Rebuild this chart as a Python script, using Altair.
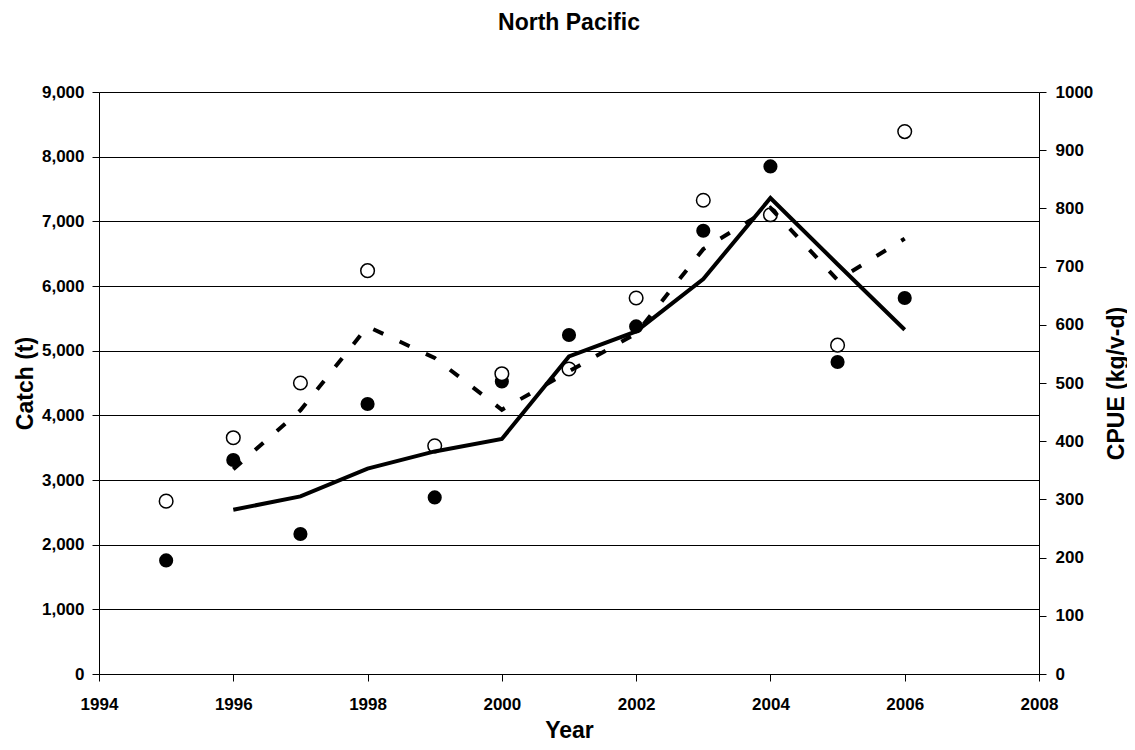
import altair as alt
import pandas as pd

# ---- data ----
years = [1995, 1996, 1997, 1998, 1999, 2000, 2001, 2002, 2003, 2004, 2005, 2006]
catch_t = [1757, 3309, 2165, 4175, 2731, 4525, 5242, 5375, 6855, 7849, 4824, 5814]
cpue = [297, 406, 500, 693, 392, 516, 524, 646, 814, 789, 565, 932]

line_years = [1996, 1997, 1998, 1999, 2000, 2001, 2002, 2003, 2004, 2005, 2006]
catch_avg = [2541, 2746, 3175, 3442, 3634, 4911, 5298, 6108, 7360, 6337, 5324]
cpue_avg = [352, 453, 597, 543, 454, 520, 585, 730, 801, 677, 748]

x_ticks = [1994, 1996, 1998, 2000, 2002, 2004, 2006, 2008]
left_ticks = [0, 1000, 2000, 3000, 4000, 5000, 6000, 7000, 8000, 9000]
right_ticks = [0, 100, 200, 300, 400, 500, 600, 700, 800, 900, 1000]

pts = pd.DataFrame({"Year": years, "Catch": catch_t, "CPUE": cpue})
lines = pd.DataFrame({"Year": line_years, "CatchAvg": catch_avg, "CPUEAvg": cpue_avg})

FONT = "Liberation Sans"

x_enc = alt.X(
    "Year:Q",
    scale=alt.Scale(domain=[1994, 2008], nice=False, zero=False),
    axis=alt.Axis(
        values=x_ticks, format="d", title="Year", grid=False,
        domainColor="black", tickColor="black", tickSize=7,
        labelFont=FONT, labelFontSize=17, labelFontWeight="bold", labelColor="black",
        labelPadding=15, labelFlush=False,
        titleFont=FONT, titleFontSize=23, titleFontWeight="bold", titleColor="black",
        titleX=470, titleY=63, titleBaseline="alphabetic", titleAlign="center",
    ),
)

left_scale = alt.Scale(domain=[0, 9000], nice=False)
right_scale = alt.Scale(domain=[0, 1000], nice=False)

filled = alt.Chart(pts).mark_point(
    filled=True, shape="circle", size=200, color="black", opacity=1
).encode(
    x=x_enc,
    y=alt.Y(
        "Catch:Q", scale=left_scale,
        axis=alt.Axis(
            values=left_ticks, format=",.0f", title="Catch (t)", orient="left",
            grid=True, gridColor="black", gridWidth=1, gridOpacity=1,
            domainColor="black", tickColor="black", tickSize=7,
            labelFont=FONT, labelFontSize=17, labelFontWeight="bold", labelColor="black",
            labelPadding=8,
            titleFont=FONT, titleFontSize=23, titleFontWeight="bold", titleColor="black",
            titleAngle=270, titleX=-67, titleY=291, titleBaseline="alphabetic", titleAlign="center",
        ),
    ),
)

opened = alt.Chart(pts).mark_point(
    filled=False, shape="circle", size=185, stroke="black", strokeWidth=1.5,
    fill="white", fillOpacity=1, opacity=1
).encode(
    x=x_enc,
    y=alt.Y(
        "CPUE:Q", scale=right_scale,
        axis=alt.Axis(
            values=right_ticks, format="d", title="CPUE (kg/v-d)", orient="right",
            grid=False,
            domainColor="black", tickColor="black", tickSize=7,
            labelFont=FONT, labelFontSize=17, labelFontWeight="bold", labelColor="black",
            labelPadding=9,
            titleFont=FONT, titleFontSize=23, titleFontWeight="bold", titleColor="black",
            titleAngle=270, titleX=84, titleY=291, titleBaseline="alphabetic", titleAlign="center",
        ),
    ),
)

solid = alt.Chart(lines).mark_line(color="black", strokeWidth=4, strokeJoin="miter").encode(
    x=x_enc,
    y=alt.Y("CatchAvg:Q", scale=left_scale, axis=None),
)

dashed = alt.Chart(lines).mark_line(
    color="black", strokeWidth=4, strokeDash=[11, 18], strokeCap="butt"
).encode(
    x=x_enc,
    y=alt.Y("CPUEAvg:Q", scale=right_scale, axis=None),
)

chart = (
    alt.layer(filled, opened, solid, dashed)
    .resolve_scale(y="independent")
    .properties(
        width=940,
        height=582,
        title=alt.TitleParams(
            "North Pacific", font=FONT, fontSize=23, fontWeight="bold", color="black",
            anchor="middle", offset=48,
        ),
        autosize=alt.AutoSizeParams(type="none"),
        padding={"left": 91, "top": 84, "right": 88, "bottom": 68},
    )
    .configure_view(stroke=None)
    .configure(background="white")
)

chart.save("out.html", embed_options={"renderer": "svg", "actions": False})
